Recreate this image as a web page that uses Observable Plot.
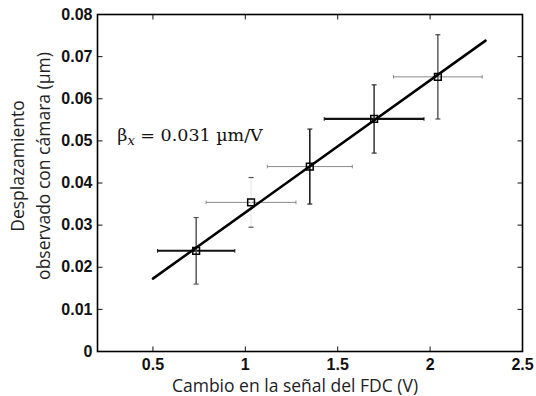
<!DOCTYPE html>
<html>
<head>
<meta charset="utf-8">
<script src="https://cdn.jsdelivr.net/npm/d3@7"></script>
<script src="https://cdn.jsdelivr.net/npm/@observablehq/plot@0.6"></script>
<style>
  html, body { margin: 0; padding: 0; background: #fff; }
  #chart { width: 536px; height: 396px; }
</style>
</head>
<body>
<div id="chart"></div>
<script>
// ---- data ----
const pointsX = [0.734, 1.031, 1.349, 1.697, 2.042];
const pointsY = [0.0239, 0.0354, 0.0439, 0.0552, 0.0652];
const errX = [0.209, 0.243, 0.230, 0.270, 0.240];
const errY = [0.0079, 0.0059, 0.0089, 0.0081, 0.0100];
const fitX = [0.5, 2.3];
const fitY = [0.0173, 0.0738];
const xDomain = [0.2, 2.5];
const yDomain = [0, 0.08];
const xTicks = [0.5, 1, 1.5, 2, 2.5];
const xTickLabels = ["0.5", "1", "1.5", "2", "2.5"];
const yTicks = [0, 0.01, 0.02, 0.03, 0.04, 0.05, 0.06, 0.07, 0.08];
const yTickLabels = ["0", "0.01", "0.02", "0.03", "0.04", "0.05", "0.06", "0.07", "0.08"];
const xLabel = "Cambio en la señal del FDC (V)";
const yLabelLines = ["Desplazamiento", "observado con cámara (µm)"];
const annotationPos = [0.31, 0.0498];

// ---- per-point styles (kept apart from data) ----
const hColor = ["#111", "#8a8a8a", "#8a8a8a", "#111", "#8a8a8a"];
const hWidth = [2, 1, 1, 2.2, 1];
const vColor = ["#555", "#e4e4e4", "#222", "#333", "#444"];
const capVColor = ["#555", "#555", "#222", "#333", "#444"];
const vWidth = [1.5, 1, 1.6, 1.5, 1.3];

const rows = pointsX.map((x, i) => ({
  x, y: pointsY[i], ex: errX[i], ey: errY[i],
  hc: hColor[i], hw: hWidth[i], vc: vColor[i], vw: vWidth[i], cc: capVColor[i]
}));
const fit = fitX.map((x, i) => ({x, y: fitY[i]}));

// custom segment symbols (size -> r)
const seg = (a, b, c, d) => ({
  draw(ctx, size) {
    const r = Math.sqrt(size / Math.PI);
    ctx.moveTo(a * r, b * r);
    ctx.lineTo(c * r, d * r);
  }
});
const tickUp = seg(0, 0, 0, -1), tickDown = seg(0, 0, 0, 1);
const tickRight = seg(0, 0, 1, 0), tickLeft = seg(0, 0, -1, 0);
const capH = seg(-1, 0, 1, 0), capV = seg(0, -1, 0, 1);

const tickFont = {fontFamily: "Liberation Sans, Arial, sans-serif", fontSize: 16, fontWeight: "bold"};
const labelFont = {fontFamily: "Open Sans, sans-serif", fontSize: 17.5, fill: "#222"};

const plot = Plot.plot({
  width: 536,
  height: 396,
  marginLeft: 97,
  marginRight: 14,
  marginTop: 14,
  marginBottom: 45,
  style: {background: "#fff", color: "#111", overflow: "visible"},
  x: {domain: xDomain},
  y: {domain: yDomain},
  marks: [
    Plot.axisX({ticks: xTicks, tickSize: 0, tickPadding: 7, label: null,
      tickFormat: d => xTickLabels[xTicks.indexOf(d)], ...tickFont, fill: "#111"}),
    Plot.axisY({ticks: yTicks, tickSize: 0, tickPadding: 5, label: null,
      tickFormat: d => yTickLabels[yTicks.indexOf(d)], ...tickFont, fill: "#111"}),
    // inward ticks on all four sides
    Plot.dot(xTicks, {x: d => d, y: () => yDomain[0], symbol: tickUp, r: 5, stroke: "#111", strokeWidth: 1}),
    Plot.dot(xTicks, {x: d => d, y: () => yDomain[1], symbol: tickDown, r: 5, stroke: "#111", strokeWidth: 1}),
    Plot.dot(yTicks, {y: d => d, x: () => xDomain[0], symbol: tickRight, r: 5, stroke: "#111", strokeWidth: 1}),
    Plot.dot(yTicks, {y: d => d, x: () => xDomain[1], symbol: tickLeft, r: 5, stroke: "#111", strokeWidth: 1}),
    // horizontal error bars
    Plot.link(rows, {x1: d => d.x - d.ex, x2: d => d.x + d.ex, y1: "y", y2: "y", stroke: "hc", strokeWidth: "hw"}),
    Plot.dot(rows, {x: d => d.x - d.ex, y: "y", symbol: capV, r: 1.8, stroke: "hc", strokeWidth: 1}),
    Plot.dot(rows, {x: d => d.x + d.ex, y: "y", symbol: capV, r: 1.8, stroke: "hc", strokeWidth: 1}),
    // vertical error bars
    Plot.link(rows, {x1: "x", x2: "x", y1: d => d.y - d.ey, y2: d => d.y + d.ey, stroke: "vc", strokeWidth: "vw"}),
    Plot.dot(rows, {x: "x", y: d => d.y - d.ey, symbol: capH, r: 2.5, stroke: "cc", strokeWidth: 1.2}),
    Plot.dot(rows, {x: "x", y: d => d.y + d.ey, symbol: capH, r: 2.5, stroke: "cc", strokeWidth: 1.2}),
    // fit line
    Plot.line(fit, {x: "x", y: "y", stroke: "#000", strokeWidth: 2.5}),
    // markers
    Plot.dot(rows, {x: "x", y: "y", symbol: "square", r: 3.8, stroke: "#000", strokeWidth: 1.5, fill: "none"}),
    Plot.frame({stroke: "#000", strokeWidth: 1.6}),
    // axis titles
    Plot.text([xLabel], {frameAnchor: "bottom", dx: -15, dy: 35, text: d => d,
      textAnchor: "middle", lineAnchor: "middle", ...labelFont}),
    Plot.text([yLabelLines[0]], {frameAnchor: "left", dx: -79, dy: -17, rotate: -90, text: d => d,
      textAnchor: "middle", lineAnchor: "middle", ...labelFont}),
    Plot.text([yLabelLines[1]], {frameAnchor: "left", dx: -53, dy: -17, rotate: -90, text: d => d,
      textAnchor: "middle", lineAnchor: "middle", ...labelFont})
  ]
});

document.getElementById("chart").appendChild(plot);

// annotation with subscript
const sx = plot.scale("x"), sy = plot.scale("y");
const t = d3.select(plot).append("text")
  .attr("x", sx.apply(annotationPos[0]))
  .attr("y", sy.apply(annotationPos[1]))
  .attr("text-anchor", "start")
  .attr("font-family", "DejaVu Serif, Liberation Serif, serif")
  .attr("font-size", 17.5)
  .attr("fill", "#111");
t.append("tspan").text("β");
t.append("tspan").attr("dy", 4).attr("font-style", "italic").attr("font-size", 13).text("x");
t.append("tspan").attr("dy", -4).text(" = 0.031 µm/V");
</script>
</body>
</html>
